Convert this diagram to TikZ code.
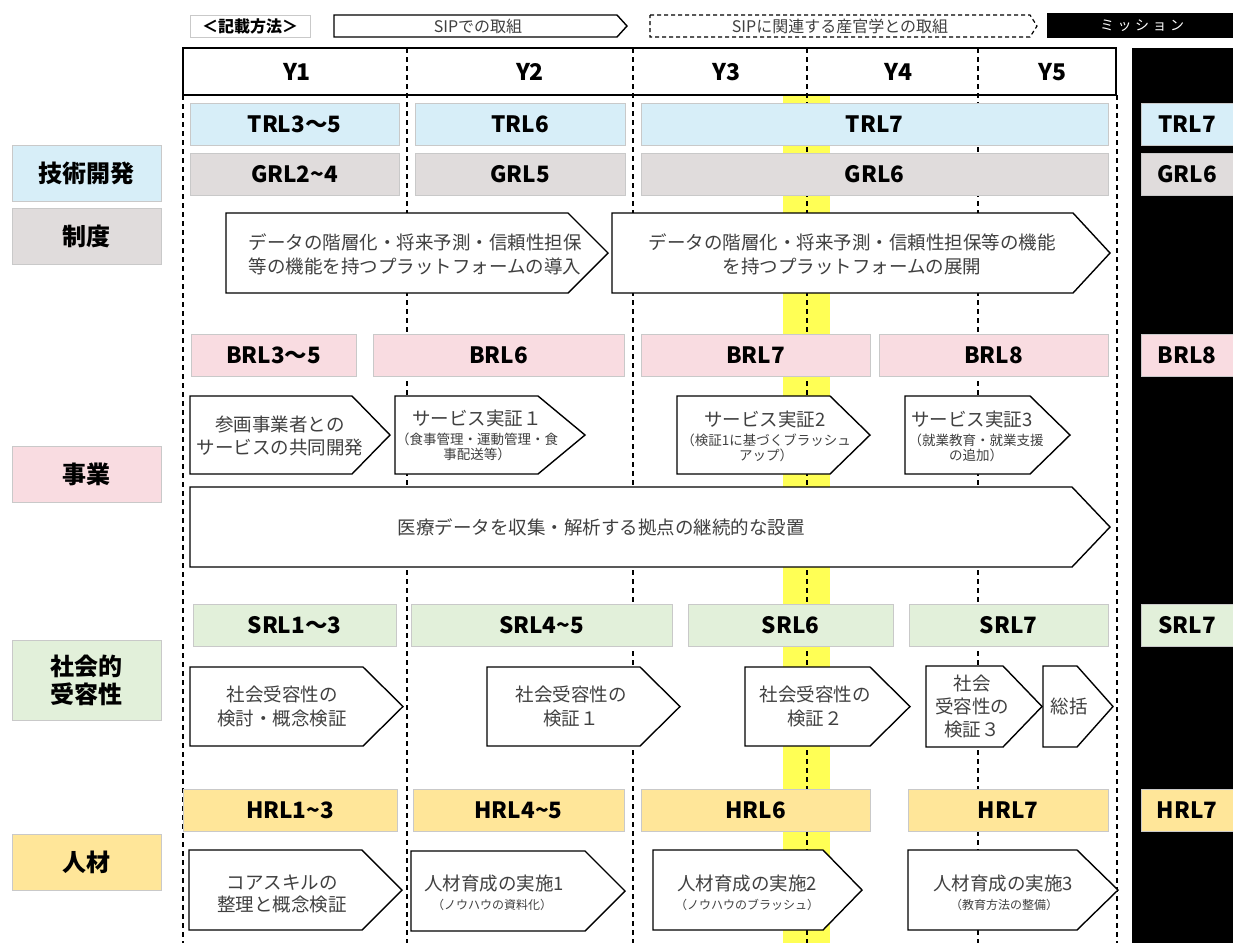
\documentclass[tikz,border=0pt]{standalone}
\usepackage{fontspec}
\setmainfont{Noto Sans CJK JP}
\definecolor{trlc}{HTML}{D7EEF8}
\definecolor{grlc}{HTML}{E0DCDC}
\definecolor{brlc}{HTML}{F9DCE1}
\definecolor{srlc}{HTML}{E2F0DA}
\definecolor{hrlc}{HTML}{FFE699}
\definecolor{bandc}{HTML}{FFFF55}
\definecolor{txtc}{HTML}{404040}
\definecolor{lvborder}{HTML}{C9C9C9}
\newcommand\fsz[2]{\fontsize{#1}{#2}\selectfont}
\newcommand\Lv[7]{\node[lvbox,fill=#6,minimum width={#3-#2},minimum height={#5-#4}] (#1) at ({(#2+#3)/2},{(#4+#5)/2}) {#7};}
\newcommand\Ar[5]{\draw[arrbox] (#1,#4) -- (#2,#4) -- (#3,{(#4+#5)/2}) -- (#2,#5) -- (#1,#5) -- cycle;}
\begin{document}
\begin{tikzpicture}[x=1pt,y=-1pt,
  lvbox/.style={draw=lvborder,line width=0.8pt,inner sep=0pt,font=\bfseries\fsz{22.5}{26},text=black},
  lbl/.style={draw=lvborder,line width=0.6pt,inner sep=0pt,font=\bfseries\fsz{24}{28},align=center,text=black},
  arrbox/.style={draw=black,line width=1.4pt,fill=white,line join=miter},
  arrtxt/.style={text=txtc,align=center,font=\fsz{18.5}{24},inner sep=0pt},
  smalltxt/.style={text=txtc,align=center,font=\fsz{13.5}{15.5},inner sep=0pt},
  dline/.style={draw=black,line width=1.2pt,dash pattern=on 5pt off 4pt},
  hdr/.style={font=\bfseries\fsz{23}{26},text=black,inner sep=0pt}]
\useasboundingbox (0,0) rectangle (1233,943);
\fill[white] (0,0) rectangle (1233,943);
% yellow band
\fill[bandc] (783,95) rectangle (830,943);
% header
\fill[white] (183,48) rectangle (1116,95);
\foreach \x in {407,633,807,978} \draw[dline] (\x,48) -- (\x,943);
\draw[dline] (183,95) -- (183,943);
\draw[dline] (1117,95) -- (1117,943);
\draw[black,line width=1.4pt] (183,48) rectangle (1116,95);
\node[hdr] (y1) at (297,72) {Y1};
\node[hdr] (y2) at (530,72) {Y2};
\node[hdr] (y3) at (726,72) {Y3};
\node[hdr] (y4) at (898,72) {Y4};
\node[hdr] (y5) at (1052,72) {Y5};
% mission column
\fill[black] (1132,48) rectangle (1233,943);
% legend
\node[draw=lvborder,line width=0.8pt,fill=white,minimum width=120pt,minimum height=22pt,inner sep=0pt,font=\bfseries\fsz{16}{18}] (lg0) at (250,26) {＜記載方法＞};
\Ar{334}{617}{627}{15}{37}
\node[text=txtc,font=\fsz{16}{18},inner sep=0pt] (lg1) at (478,26) {SIPでの取組};
\draw[black,line width=1.2pt,dash pattern=on 4pt off 3pt,fill=white] (650,15) -- (1030,15) -- (1037,26) -- (1030,37) -- (650,37) -- cycle;
\node[text=txtc,font=\fsz{16}{18},inner sep=0pt] (lg2) at (840,26) {SIPに関連する産官学との取組};
\fill[black] (1047,13) rectangle (1233,38);
\node[text=white,font=\fsz{14}{16}\addfontfeature{LetterSpace=25},inner sep=0pt] (lg3) at (1142,26) {ミッション};
% left labels
\node[lbl,fill=trlc,minimum width=149pt,minimum height=56pt] (lt) at (86.5,173) {技術開発};
\node[lbl,fill=grlc,minimum width=149pt,minimum height=56pt] (lg) at (86.5,236) {制度};
\node[lbl,fill=brlc,minimum width=149pt,minimum height=56pt] (lb) at (86.5,474) {事業};
\node[lbl,fill=srlc,minimum width=149pt,minimum height=80pt] (ls) at (86.5,680) {社会的\\受容性};
\node[lbl,fill=hrlc,minimum width=149pt,minimum height=56pt] (lh) at (86.5,862) {人材};
% TRL
\Lv{t1}{190}{399}{103}{145}{trlc}{TRL3〜5}
\Lv{t2}{415}{625}{103}{145}{trlc}{TRL6}
\Lv{t3}{641}{1108}{103}{145}{trlc}{TRL7}
\Lv{t4}{1141}{1233}{103}{145}{trlc}{TRL7}
% GRL
\Lv{g1}{190}{399}{153}{195}{grlc}{GRL2\textasciitilde4}
\Lv{g2}{415}{625}{153}{195}{grlc}{GRL5}
\Lv{g3}{641}{1108}{153}{195}{grlc}{GRL6}
\Lv{g4}{1141}{1233}{153}{195}{grlc}{GRL6}
% platform arrows
\Ar{226}{568}{608}{213}{293}
\node[arrtxt] (p1) at (415,254) {データの階層化・将来予測・信頼性担保\\等の機能を持つプラットフォームの導入};
\Ar{612}{1073}{1110}{213}{293}
\node[arrtxt] (p2) at (852,254) {データの階層化・将来予測・信頼性担保等の機能\\を持つプラットフォームの展開};
% BRL
\Lv{b1}{191}{356}{334}{376}{brlc}{BRL3〜5}
\Lv{b2}{373}{624}{334}{376}{brlc}{BRL6}
\Lv{b3}{641}{870}{334}{376}{brlc}{BRL7}
\Lv{b4}{879}{1108}{334}{376}{brlc}{BRL8}
\Lv{b5}{1141}{1233}{334}{376}{brlc}{BRL8}
% service arrows
\Ar{190}{352}{390}{396}{474}
\node[arrtxt,font=\fsz{18.5}{23}] (s0) at (280,436) {参画事業者との\\サービスの共同開発};
\Ar{395}{538}{585}{396}{474}
\node[arrtxt] (s1) at (477,418) {サービス実証１};
\node[smalltxt] (s1b) at (477,447) {（食事管理・運動管理・食\\事配送等）};
\Ar{677}{830}{870}{396}{474}
\node[arrtxt] (s2) at (765,419) {サービス実証2};
\node[smalltxt] (s2b) at (766,448) {（検証1に基づくブラッシュ\\アップ）};
\Ar{905}{1030}{1070}{396}{474}
\node[arrtxt] (s3) at (972,419) {サービス実証3};
\node[smalltxt] (s3b) at (976,448) {（就業教育・就業支援\\の追加）};
% big arrow
\Ar{190}{1072}{1110}{487}{567}
\node[arrtxt] (big) at (601,527) {医療データを収集・解析する拠点の継続的な設置};
% SRL
\Lv{r1}{193}{396}{604}{646}{srlc}{SRL1〜3}
\Lv{r2}{411}{672}{604}{646}{srlc}{SRL4\textasciitilde5}
\Lv{r3}{688}{893}{604}{646}{srlc}{SRL6}
\Lv{r4}{909}{1108}{604}{646}{srlc}{SRL7}
\Lv{r5}{1141}{1233}{604}{646}{srlc}{SRL7}
% social arrows
\Ar{190}{363}{403}{667}{746}
\node[arrtxt] (c1) at (282,706) {社会受容性の\\検討・概念検証};
\Ar{487}{640}{680}{667}{746}
\node[arrtxt] (c2) at (571,706) {社会受容性の\\検証１};
\Ar{745}{870}{910}{667}{746}
\node[arrtxt] (c3) at (815,706) {社会受容性の\\検証２};
\Ar{926}{1003}{1042}{666}{747}
\node[arrtxt,font=\fsz{18.5}{23}] (c4) at (972,707) {社会\\受容性の\\検証３};
\Ar{1043}{1077}{1113}{666}{747}
\node[arrtxt] (c5) at (1069,706) {総括};
% HRL
\Lv{h1}{183}{397}{789}{831}{hrlc}{HRL1\textasciitilde3}
\Lv{h2}{413}{624}{789}{831}{hrlc}{HRL4\textasciitilde5}
\Lv{h3}{641}{870}{789}{831}{hrlc}{HRL6}
\Lv{h4}{908}{1108}{789}{831}{hrlc}{HRL7}
\Lv{h5}{1141}{1233}{789}{831}{hrlc}{HRL7}
% HRL arrows
\Ar{189}{362}{402}{850}{930}
\node[arrtxt,font=\fsz{18.5}{22}] (e1) at (282,894) {コアスキルの\\整理と概念検証};
\Ar{411}{585}{625}{851}{931}
\node[arrtxt] (e2) at (494,884) {人材育成の実施1};
\node[smalltxt,font=\fsz{12}{14}] (e2b) at (492,905) {（ノウハウの資料化）};
\Ar{653}{823}{862}{850}{930}
\node[arrtxt] (e3) at (747,884) {人材育成の実施2};
\node[smalltxt,font=\fsz{12}{14}] (e3b) at (747,905) {（ノウハウのブラッシュ）};
\Ar{908}{1077}{1118}{850}{930}
\node[arrtxt] (e4) at (1003,884) {人材育成の実施3};
\node[smalltxt,font=\fsz{12}{14}] (e4b) at (1004,905) {（教育方法の整備）};
\end{tikzpicture}
\end{document}
